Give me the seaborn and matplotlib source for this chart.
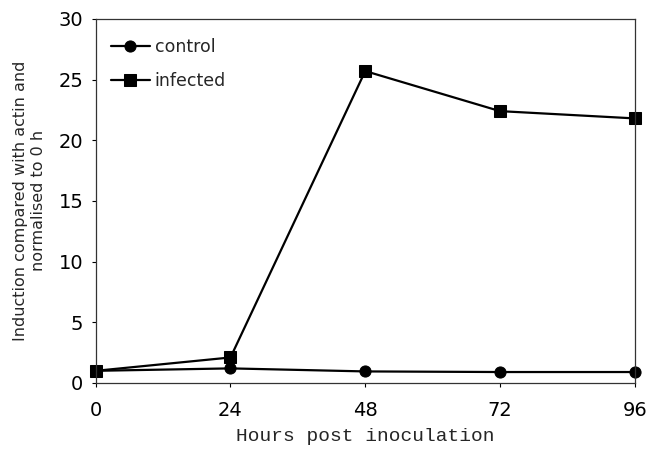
import matplotlib
matplotlib.use("Agg")
import matplotlib.pyplot as plt
import pandas as pd
import seaborn as sns

hours = [0, 24, 48, 72, 96]
control = [1.0, 1.2, 0.95, 0.9, 0.9]
infected = [1.0, 2.1, 25.7, 22.4, 21.8]

df = pd.DataFrame({
    "hours": hours * 2,
    "value": control + infected,
    "group": ["control"] * 5 + ["infected"] * 5,
})

sns.set_style("ticks")
plt.rcParams["font.family"] = ["DejaVu Sans"]

fig = plt.figure(figsize=(6.47, 4.5), dpi=100)
ax = fig.add_axes([0.148, 0.149, 0.833, 0.809])

sns.lineplot(
    data=df, x="hours", y="value", hue="group", style="group",
    markers={"control": "o", "infected": "s"}, dashes=False,
    palette={"control": "black", "infected": "black"},
    markersize=8, linewidth=1.6, markeredgecolor="black",
    ax=ax,
)
for ln in ax.lines:
    ln.set_clip_on(False)

ax.set_xlim(0, 96)
ax.set_ylim(0, 30)
ax.set_xticks(hours)
ax.set_yticks(range(0, 31, 5))
ax.tick_params(labelsize=14, length=3, width=0.8, colors="black")
ax.tick_params(axis="x", pad=10)
ax.tick_params(axis="y", pad=6)
for s in ax.spines.values():
    s.set_linewidth(0.9)
    s.set_color("#333333")

ax.set_xlabel("Hours post inoculation", fontsize=14, family="Liberation Mono", labelpad=6)
ax.set_ylabel("Induction compared with actin and\nnormalised to 0 h", fontsize=11.5,
              linespacing=1.25)
ax.yaxis.set_label_coords(-0.092, 0.5)

ax.legend(loc="upper left", frameon=False, fontsize=12.5,
          handlelength=2.2, handletextpad=0.3, labelspacing=0.9,
          bbox_to_anchor=(0.0, 0.99))

fig.savefig("out.png", dpi=100)
